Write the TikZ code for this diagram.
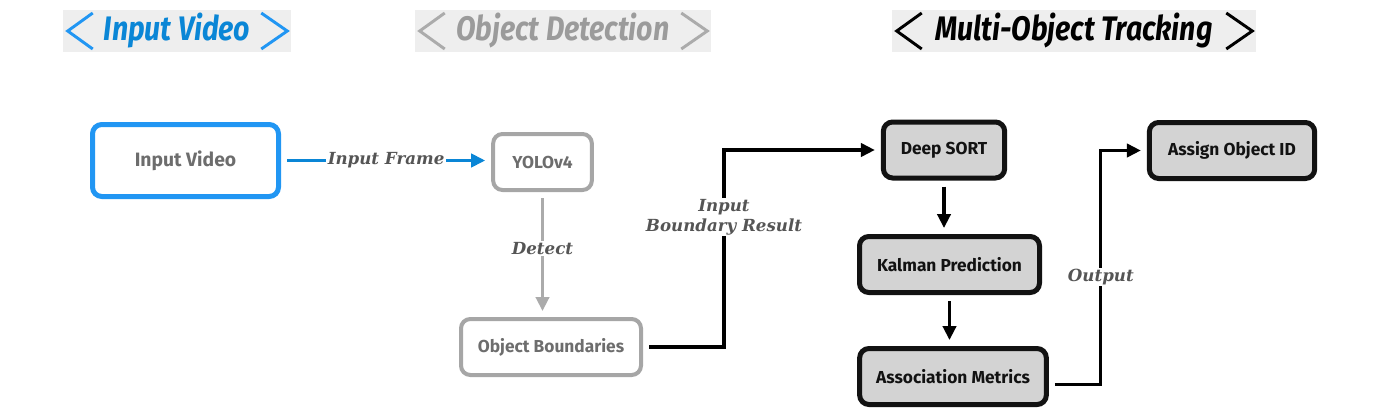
\documentclass[tikz,border=0pt]{standalone}
\usepackage{fontspec}
\usetikzlibrary{arrows.meta,calc,positioning}

\newfontfamily\hdrfont{Fira Sans}[FakeStretch=0.84]
\newfontfamily\boxfont{Fira Sans}
\newfontfamily\lblfont{DejaVu Serif}

\definecolor{hdrbg}{HTML}{EEEEEE}
\definecolor{vidblue}{HTML}{2196F3}
\definecolor{vidtext}{HTML}{0A86D6}
\definecolor{detgrey}{HTML}{ABABAB}
\definecolor{dettext}{HTML}{9B9B9B}
\definecolor{boxgrey}{HTML}{A6A6A6}
\definecolor{boxtext}{HTML}{6D6D6D}
\definecolor{trackfill}{HTML}{D3D3D3}
\definecolor{lbltext}{HTML}{555555}

\tikzset{
  header/.style={fill=hdrbg, minimum height=31.5pt, inner sep=0pt,
    font=\hdrfont\fontsize{25.5}{30}\selectfont\bfseries\itshape},
  chev/.style={line width=2.2pt},
  box/.style={rounded corners=7pt, minimum height=42pt, inner sep=0pt,
    font=\boxfont\fontsize{13}{15}\selectfont\bfseries},
  greybox/.style={box, draw=boxgrey, line width=3pt, text=boxtext},
  trackbox/.style={box, draw=black!93, fill=trackfill, line width=3.75pt, text=black!93},
  flow/.style={line width=2.4pt, -{Triangle[length=10.5pt,width=10pt]},
    shorten <=4.5pt, shorten >=4.5pt},
  lbl/.style={fill=white, inner sep=1pt, text=lbltext,
    font=\lblfont\fontsize{12.5}{15}\selectfont\bfseries\itshape}
}

\begin{document}
\begin{tikzpicture}[x=0.75pt,y=-0.75pt]
  \useasboundingbox (0,0) rectangle (1378,418);

  % stage headers
  \node[header, minimum width=171pt, text=vidtext] (hdrVideo) at (177,31) {Input Video};
  \node[header, minimum width=222pt, text=dettext] (hdrDetect) at (563,31) {Object Detection};
  \node[header, minimum width=273pt, text=black] (hdrTrack) at (1074,31) {Multi-Object Tracking};
  \foreach \h/\c in {hdrVideo/vidblue, hdrDetect/detgrey, hdrTrack/black} {
    \draw[chev, \c] ($(\h.west)+(30,-18)$) -- ($(\h.west)+(5,0)$) -- ($(\h.west)+(30,18)$);
    \draw[chev, \c] ($(\h.east)+(-30,-18)$) -- ($(\h.east)+(-4,0)$) -- ($(\h.east)+(-30,18)$);
  }

  % boxes
  \node[box, draw=vidblue, line width=3.75pt, text=boxtext, minimum width=139.5pt, minimum height=54pt,
    font=\boxfont\fontsize{14.5}{17}\selectfont\bfseries] (video) at (185.5,160.5) {Input Video};
  \node[greybox, minimum width=74pt] (yolo) at (542.5,162) {YOLOv4};
  \node[greybox, minimum width=135pt] (bounds) at (551,347) {Object Boundaries};
  \node[trackbox, minimum width=91pt] (deep) at (944,150) {Deep SORT};
  \node[trackbox, minimum width=135pt] (kalman) at (949.5,264.5) {Kalman Prediction};
  \node[trackbox, minimum width=140pt] (assoc) at (953,376.5) {Association Metrics};
  \node[trackbox, minimum width=124pt] (assign) at (1232,150.5) {Assign Object ID};

  % connectors
  \draw[flow, vidtext] (video.east) -- node[lbl] {Input Frame} (video.east -| yolo.west);
  \draw[flow, detgrey] (yolo.south) -- node[lbl, pos=0.45] {Detect} (yolo.south |- bounds.north);
  \draw[flow] (bounds.east) -- ++(81,0) |- node[lbl, pos=0.33, align=center] {Input\\Boundary Result} (deep.west);
  \draw[flow] (deep.south) -- (deep.south |- kalman.north);
  \draw[flow] (kalman.south) -- (kalman.south |- assoc.north);
  \draw[flow] ([yshift=-6pt]assoc.east) -- ++(52,0) |- node[lbl, pos=0.23] {Output} (assign.west);
\end{tikzpicture}
\end{document}
